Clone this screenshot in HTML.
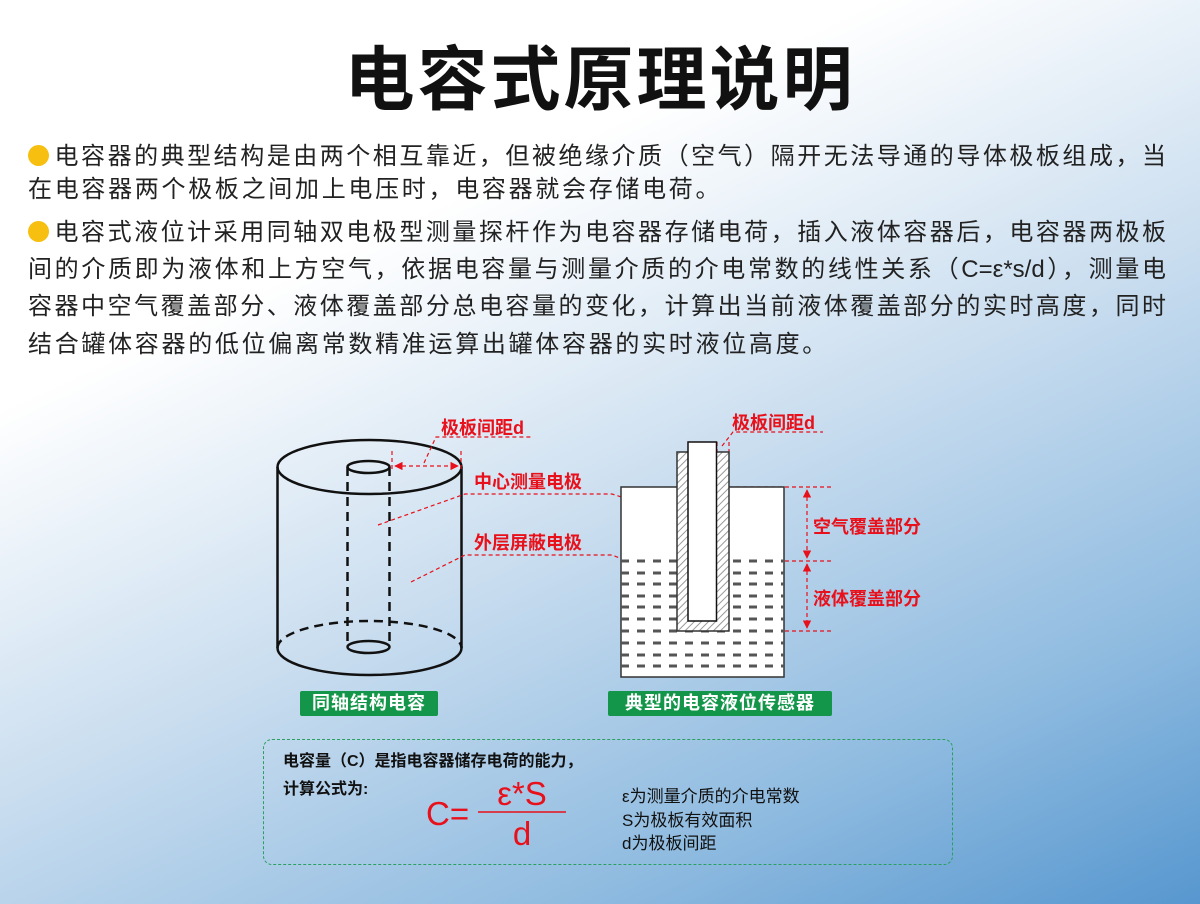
<!DOCTYPE html>
<html><head><meta charset="utf-8"><style>
body{margin:0;width:1200px;height:904px;overflow:hidden;position:relative;
background:linear-gradient(155deg,#ffffff 0%,#ffffff 28%,#c9ddef 55%,#8fbbe0 80%,#5797cf 100%);
font-family:"Liberation Sans","Noto Sans CJK SC",sans-serif;}
.t{position:absolute;left:0;width:1200px;top:34px;text-align:center;font-size:70px;font-weight:bold;color:#111;letter-spacing:3px;line-height:92px}
.l{position:absolute;left:28px;font-size:24px;color:#222;letter-spacing:2.7px;line-height:30px;white-space:nowrap}
.j{width:1138px;text-align:justify;text-align-last:justify;letter-spacing:0}
.b{display:inline-block;width:21px;height:21px;border-radius:50%;background:#f7bf10;vertical-align:-2px;margin-right:3px}
.g{position:absolute;background:#14964a;color:#fff;font-weight:bold;font-size:18px;line-height:25px;text-align:center;border-radius:2px;letter-spacing:1px}
.r{position:absolute;color:#e8101a;font-weight:bold;font-size:18px;white-space:nowrap}
.box{position:absolute;left:263px;top:739px;width:688px;height:124px;border:1.5px dashed #2aa060;border-radius:9px}
.k{position:absolute;font-size:16px;font-weight:bold;color:#111;white-space:nowrap}
.m{position:absolute;font-size:17px;color:#111;white-space:nowrap;line-height:23.5px}
</style></head><body>
<div class="t">电容式原理说明</div>
<div class="l j" style="top:142px"><span class="b"></span>电容器的典型结构是由两个相互靠近，但被绝缘介质（空气）隔开无法导通的导体极板组成，当</div>
<div class="l" style="top:175px">在电容器两个极板之间加上电压时，电容器就会存储电荷。</div>
<div class="l j" style="top:218px"><span class="b"></span>电容式液位计采用同轴双电极型测量探杆作为电容器存储电荷，插入液体容器后，电容器两极板</div>
<div class="l j" style="top:255px">间的介质即为液体和上方空气，依据电容量与测量介质的介电常数的线性关系（C=ε*s/d），测量电</div>
<div class="l j" style="top:292px">容器中空气覆盖部分、液体覆盖部分总电容量的变化，计算出当前液体覆盖部分的实时高度，同时</div>
<div class="l" style="top:330px">结合罐体容器的低位偏离常数精准运算出罐体容器的实时液位高度。</div>

<svg style="position:absolute;left:0;top:0" width="1200" height="904">
<defs>
<pattern id="h" width="5" height="5" patternUnits="userSpaceOnUse" patternTransform="rotate(45)"><rect width="5" height="5" fill="#fff"/><line x1="0" y1="0" x2="0" y2="5" stroke="#999" stroke-width="2"/></pattern>
<marker id="a" viewBox="0 0 10 10" refX="9" refY="5" markerWidth="7" markerHeight="7" orient="auto-start-reverse"><path d="M0,0L10,5L0,10z" fill="#e8101a"/></marker>
</defs>
<g fill="none" stroke="#111" stroke-width="2.5">
<ellipse cx="369.5" cy="467" rx="92" ry="27"/>
<line x1="277.5" y1="467" x2="277.5" y2="648"/><line x1="461.5" y1="467" x2="461.5" y2="648"/>
<path d="M277.5,648 A92,27 0 0 0 461.5,648"/>
<path d="M277.5,648 A92,27 0 0 1 461.5,648" stroke-dasharray="9,6"/>
<ellipse cx="368.5" cy="467" rx="21" ry="6"/>
<ellipse cx="368.5" cy="647" rx="21" ry="6"/>
<line x1="347.5" y1="467" x2="347.5" y2="647" stroke-dasharray="9,6"/>
<line x1="389.5" y1="467" x2="389.5" y2="647" stroke-dasharray="9,6"/>
</g>
<g stroke="#e8101a" stroke-width="1.2" stroke-dasharray="4,3" fill="none">
<line x1="392" y1="451" x2="392" y2="472"/><line x1="461" y1="451" x2="461" y2="472"/>
<line x1="395" y1="466" x2="458" y2="466" marker-start="url(#a)" marker-end="url(#a)" stroke-dasharray="4,3"/>
<polyline points="424,463 436,437 533,437"/>
<polyline points="378,525 465,494 612,494 700,522"/>
<polyline points="411,582 465,555 612,555 683,583"/>
<line x1="729" y1="487" x2="832" y2="487"/><line x1="729" y1="561" x2="832" y2="561"/><line x1="729" y1="631" x2="832" y2="631"/>
<line x1="807" y1="490" x2="807" y2="558" marker-start="url(#a)" marker-end="url(#a)"/>
<line x1="807" y1="564" x2="807" y2="628" marker-start="url(#a)" marker-end="url(#a)"/>
<polyline points="722,446 733,432 823,432"/>
<line x1="717" y1="442" x2="717" y2="452"/><line x1="729" y1="442" x2="729" y2="452"/>
</g>
<rect x="621" y="487" width="163" height="190" fill="#fff" stroke="#333" stroke-width="1.5"/>
<g stroke="#555" stroke-width="3" stroke-dasharray="8,8">
<line x1="621" y1="561" x2="784" y2="561"/><line x1="621" y1="573" x2="784" y2="573"/><line x1="621" y1="584" x2="784" y2="584"/><line x1="621" y1="596" x2="784" y2="596"/><line x1="621" y1="607" x2="784" y2="607"/><line x1="621" y1="619" x2="784" y2="619"/><line x1="621" y1="631" x2="784" y2="631"/><line x1="621" y1="643" x2="784" y2="643"/><line x1="621" y1="655" x2="784" y2="655"/><line x1="621" y1="666" x2="784" y2="666"/>
</g>
<rect x="677" y="452" width="52" height="179" fill="url(#h)" stroke="#333" stroke-width="1.5"/>
<rect x="688" y="442" width="28.5" height="179" fill="#fff" stroke="#111" stroke-width="1.5"/>
<line x1="478" y1="812" x2="566" y2="812" stroke="#e8101a" stroke-width="1.5"/>
</svg>
<div class="r" style="left:441px;top:414px">极板间距d</div>
<div class="r" style="left:474px;top:468px">中心测量电极</div>
<div class="r" style="left:474px;top:529px">外层屏蔽电极</div>
<div class="r" style="left:732px;top:409px">极板间距d</div>
<div class="r" style="left:813px;top:513px">空气覆盖部分</div>
<div class="r" style="left:813px;top:585px">液体覆盖部分</div>
<div class="g" style="left:300px;top:691px;width:138px">同轴结构电容</div>
<div class="g" style="left:608px;top:691px;width:224px">典型的电容液位传感器</div>
<div class="box"></div>
<div class="k" style="left:283px;top:747px">电容量（C）是指电容器储存电荷的能力，</div>
<div class="k" style="left:283px;top:775px">计算公式为:</div>
<div style="position:absolute;left:426px;top:794px;color:#e8101a;font-size:33px;line-height:40px">C=</div>
<div style="position:absolute;left:478px;width:88px;text-align:center;top:774px;color:#e8101a;font-size:33px;line-height:40px">ε*S</div>
<div style="position:absolute;left:478px;width:88px;text-align:center;top:814px;color:#e8101a;font-size:33px;line-height:40px">d</div>
<div class="m" style="left:622px;top:785px">ε为测量介质的介电常数<br>S为极板有效面积<br>d为极板间距</div>
</body></html>
